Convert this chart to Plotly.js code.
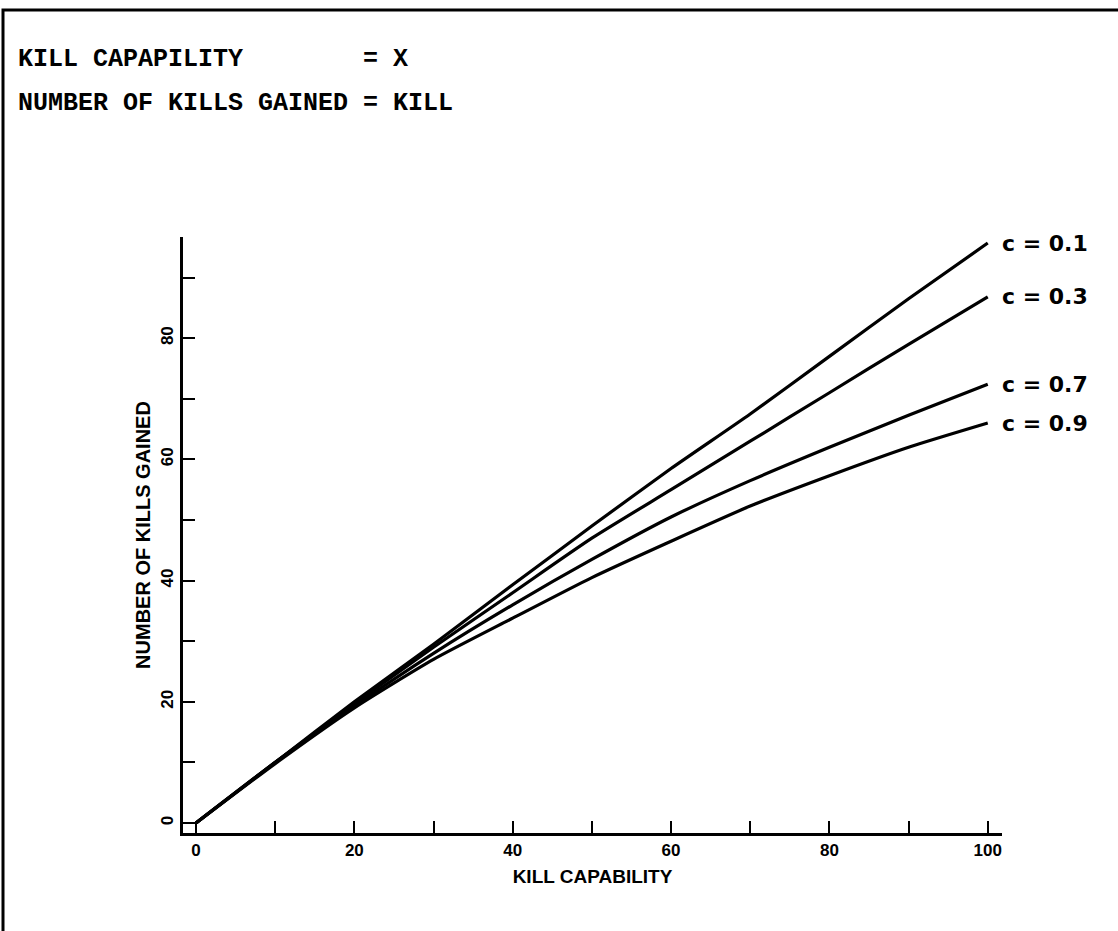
<!DOCTYPE html>
<html>
<head>
<meta charset="utf-8">
<script src="https://cdn.plot.ly/plotly-3.0.1.min.js"></script>
<style>
  html, body { margin: 0; padding: 0; background: #fff; }
  #chart { width: 1118px; height: 931px; }
</style>
</head>
<body>
<div id="chart"></div>
<script>
// Data
const killCapability = [0, 10, 20, 30, 40, 50, 60, 70, 80, 90, 100];
const killsC01 = [0, 10, 20, 29.5, 39.3, 49, 58.5, 67.5, 77, 86.5, 95.7];
const killsC03 = [0, 10, 19.7, 29, 38, 47, 55, 63, 71, 79, 86.8];
const killsC07 = [0, 10, 19.3, 28, 36, 43.5, 50.5, 56.5, 62, 67.3, 72.4];
const killsC09 = [0, 9.8, 19, 27, 33.8, 40.5, 46.5, 52.3, 57.3, 62, 66];
const curveLabels = ["c = 0.1", "c = 0.3", "c = 0.7", "c = 0.9"];
const xTickVals = [0, 10, 20, 30, 40, 50, 60, 70, 80, 90, 100];
const xTickText = ["0", "", "20", "", "40", "", "60", "", "80", "", "100"];
const yTickVals = [0, 10, 20, 30, 40, 50, 60, 70, 80, 90];
const yTickText = ["0", "", "20", "", "40", "", "60", "", "80", ""];
const legendLine1 = "KILL CAPAPILITY        = X";
const legendLine2 = "NUMBER OF KILLS GAINED = KILL";
const xTitle = "KILL CAPABILITY";
const yTitle = "NUMBER OF KILLS GAINED";

const series = [killsC01, killsC03, killsC07, killsC09];

const traces = series.map((ys, i) => ({
  x: killCapability,
  y: ys,
  type: 'scatter',
  mode: 'lines',
  line: { color: '#000', width: 3.2, shape: 'spline', smoothing: 0.6 },
  name: curveLabels[i],
  hoverinfo: 'skip'
}));

const labelFont = { family: 'DejaVu Sans', size: 22, color: '#000', weight: 'bold' };
const annotations = series.map((ys, i) => ({
  x: killCapability[killCapability.length - 1],
  y: ys[ys.length - 1],
  xref: 'x', yref: 'y',
  text: curveLabels[i],
  showarrow: false,
  xanchor: 'left', yanchor: 'middle',
  xshift: 12,
  font: labelFont
}));

const monoFont = { family: 'Liberation Mono', size: 25, color: '#000', weight: 'bold' };
annotations.push({
  x: (16 - 183) / 819, y: (833 - 60) / 596,
  xref: 'paper', yref: 'paper',
  text: legendLine1.replace(/ /g, '\u00a0'),
  showarrow: false, xanchor: 'left', yanchor: 'middle',
  font: monoFont
});
annotations.push({
  x: (16 - 183) / 819, y: (833 - 104) / 596,
  xref: 'paper', yref: 'paper',
  text: legendLine2.replace(/ /g, '\u00a0'),
  showarrow: false, xanchor: 'left', yanchor: 'middle',
  font: monoFont
});

const tickFont = { family: 'Liberation Sans', size: 17, color: '#000', weight: 'bold' };
const xTitleFont = { family: 'Liberation Sans', size: 19, color: '#000', weight: 'bold' };
const yTitleFont = { family: 'Liberation Sans', size: 20, color: '#000', weight: 'bold' };

const layout = {
  width: 1118,
  height: 931,
  margin: { l: 183, r: 116, t: 237, b: 98 },
  paper_bgcolor: '#fff',
  plot_bgcolor: '#fff',
  showlegend: false,
  xaxis: {
    range: [-1.64, 101.8],
    tickmode: 'array',
    tickvals: xTickVals,
    ticktext: xTickText,
    ticks: 'inside',
    ticklen: 12,
    tickwidth: 2,
    tickcolor: '#000',
    showline: true,
    linecolor: '#000',
    linewidth: 3,
    showgrid: false,
    zeroline: false,
    tickfont: tickFont,
    title: { text: xTitle, font: xTitleFont, standoff: 11 },
    automargin: false
  },
  yaxis: {
    range: [-1.65, 96.7],
    tickmode: 'array',
    tickvals: yTickVals,
    ticktext: yTickText,
    ticks: 'inside',
    ticklen: 12,
    tickwidth: 2,
    tickcolor: '#000',
    tickangle: -90,
    showline: true,
    linecolor: '#000',
    linewidth: 3,
    showgrid: false,
    zeroline: false,
    tickfont: tickFont,
    title: { text: yTitle, font: yTitleFont, standoff: 3 },
    automargin: false
  },
  shapes: [{
    type: 'rect',
    xref: 'paper', yref: 'paper',
    x0: (3 - 183) / 819, x1: (1160 - 183) / 819,
    y0: (833 - 960) / 596, y1: (833 - 10) / 596,
    line: { color: '#000', width: 3 },
    fillcolor: 'rgba(0,0,0,0)',
    layer: 'below'
  }],
  annotations: annotations
};

Plotly.newPlot('chart', traces, layout, { displayModeBar: false, staticPlot: true });
</script>
</body>
</html>
